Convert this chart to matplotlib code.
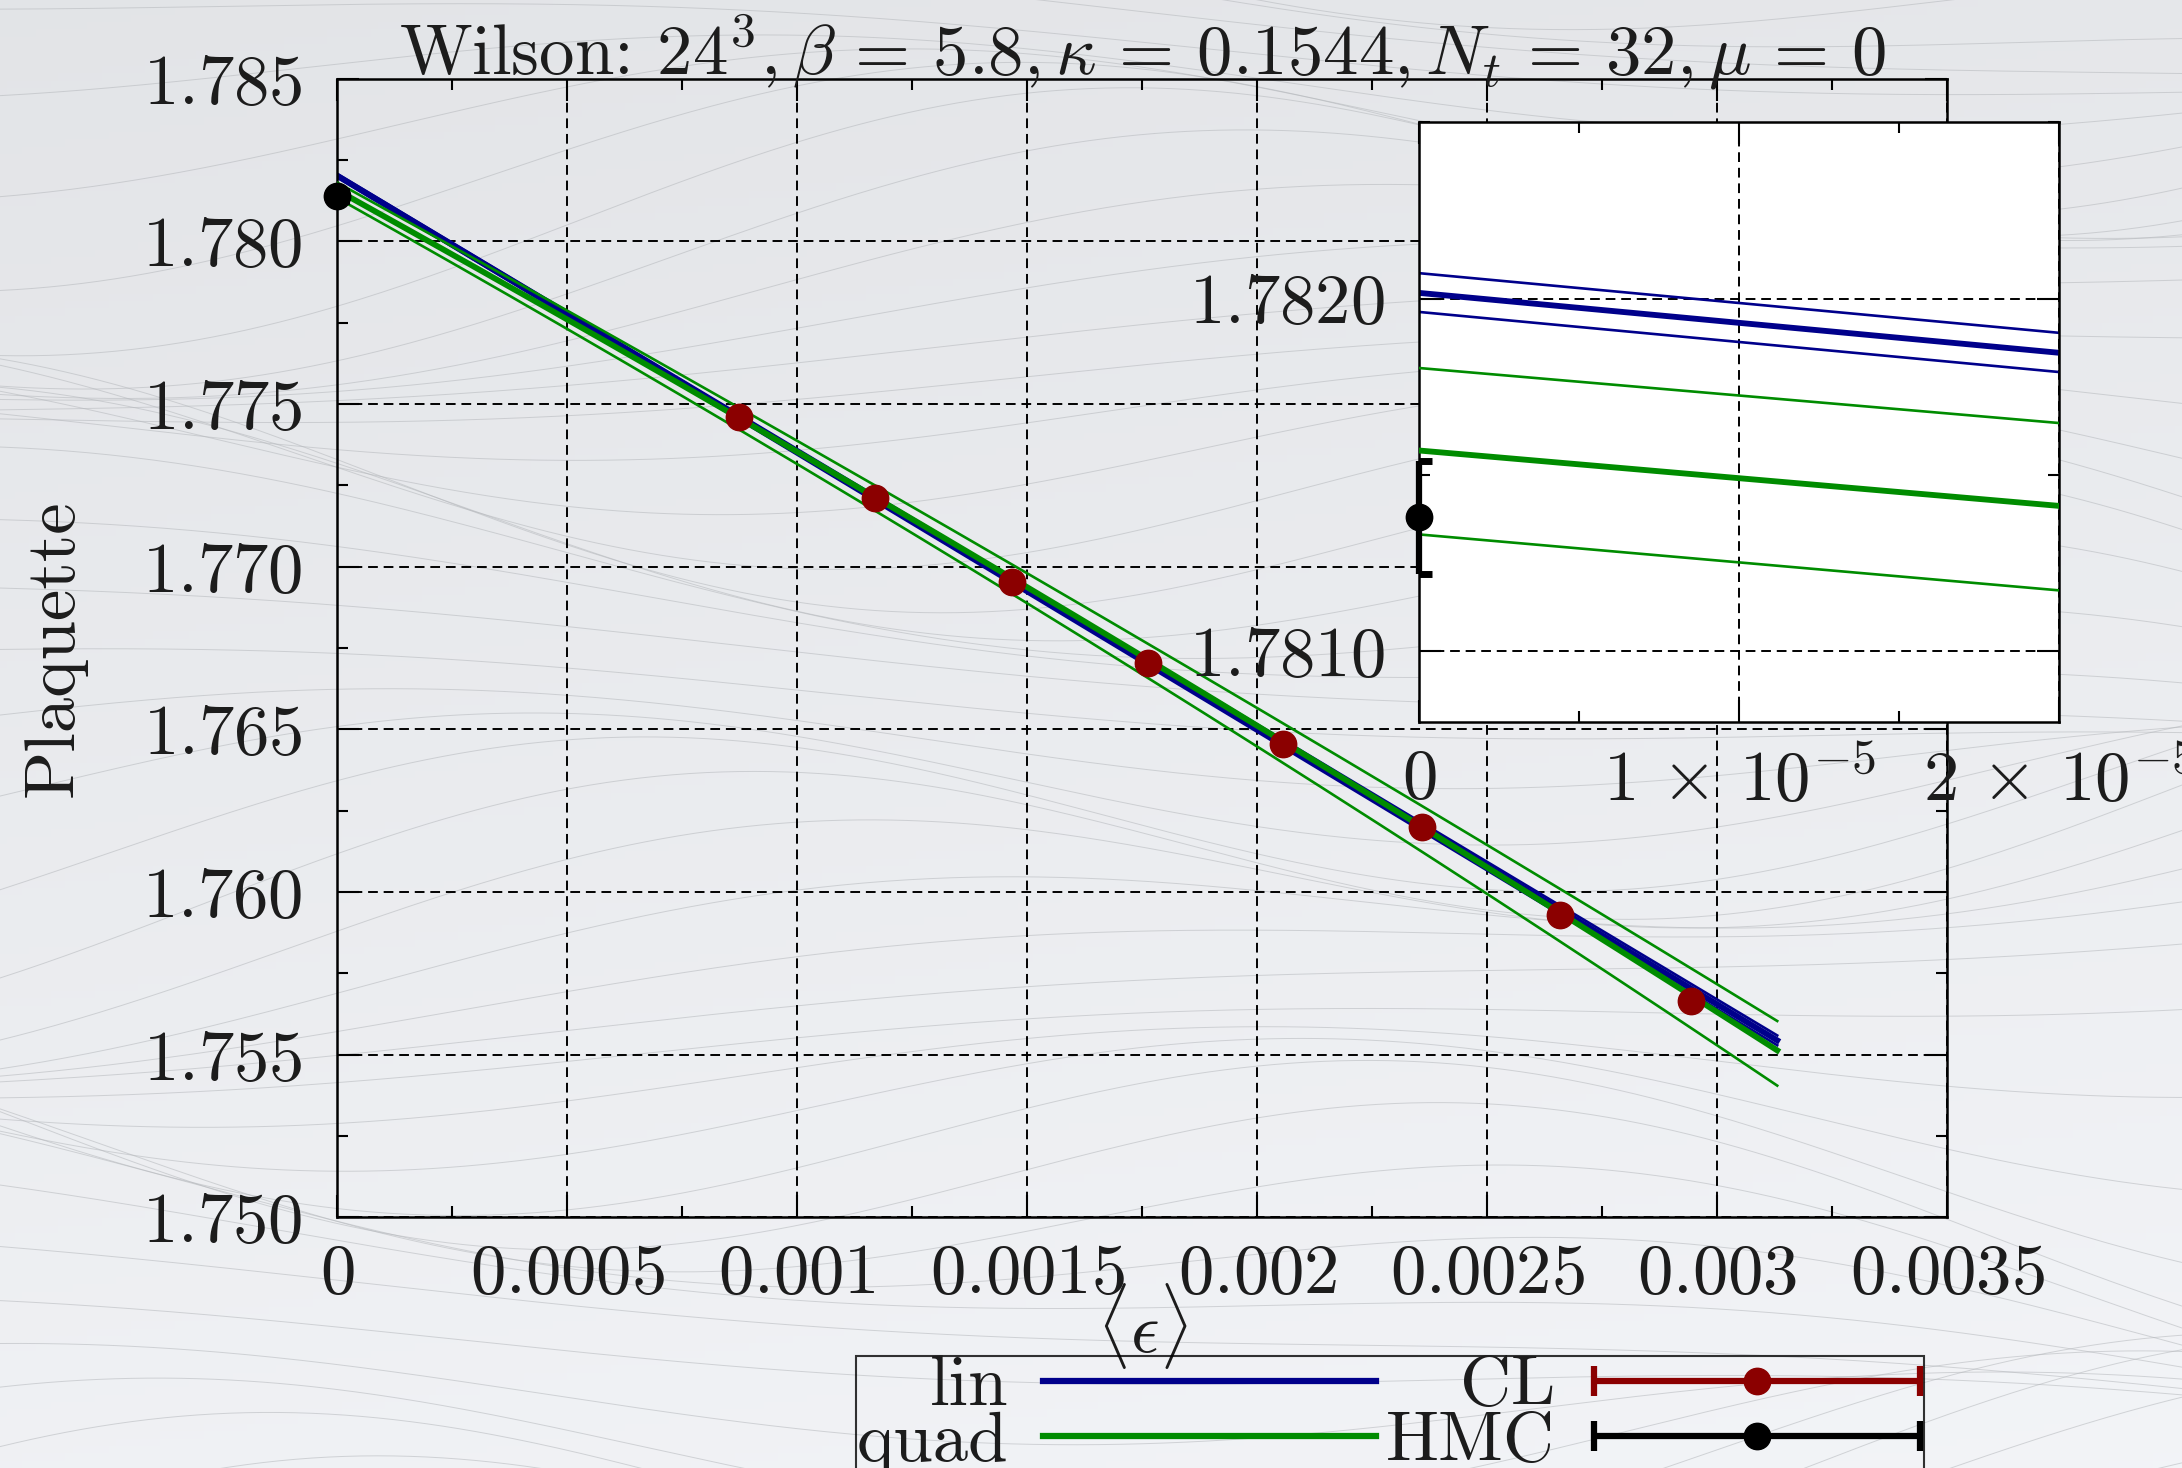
import numpy as np
import matplotlib
matplotlib.use('Agg')
import matplotlib.pyplot as plt
from matplotlib.ticker import MultipleLocator
from matplotlib.lines import Line2D
from matplotlib.collections import LineCollection
from matplotlib.container import ErrorbarContainer
from matplotlib.legend_handler import HandlerErrorbar
from numpy.polynomial.polynomial import polyval

plt.rcParams['font.family'] = 'cmr10'
plt.rcParams['mathtext.fontset'] = 'cm'
plt.rcParams['axes.unicode_minus'] = False
plt.rcParams['axes.formatter.use_mathtext'] = True

# --- data ---
cl_eps = [0.000873, 0.001169, 0.001466, 0.001763, 0.002055, 0.002357, 0.002658, 0.002943]
cl_plaq = [1.774591, 1.772120, 1.769519, 1.767029, 1.764539, 1.761987, 1.759291, 1.756657]
cl_err = [0.00004] * 8

hmc_eps = [0.0]
hmc_plaq = [1.78138]
hmc_err = [0.00016]

# fit curves: coefficients (a, b, c) of a + b*x + c*x^2, plus error band
fit_xmax = 0.00313
lin_mid = [1.782016, -8.491]
lin_hi = [1.782072, -8.461]
lin_lo = [1.781962, -8.522]
quad_mid = [1.781569, -7.85, -190.7]
quad_hi = [1.781803, -7.80, -138.4]
quad_lo = [1.781331, -7.93, -251.4]

main_xticks = [0, 0.0005, 0.001, 0.0015, 0.002, 0.0025, 0.003, 0.0035]
main_xlabels = ['0', '0.0005', '0.001', '0.0015', '0.002', '0.0025', '0.003', '0.0035']
main_yticks = [1.750, 1.755, 1.760, 1.765, 1.770, 1.775, 1.780, 1.785]
main_ylabels = ['1.750', '1.755', '1.760', '1.765', '1.770', '1.775', '1.780', '1.785']
ins_xticks = [0, 1e-5, 2e-5]
ins_xlabels = [r'0', r'1\,\times\,10^{-5}', r'2\,\times\,10^{-5}']
ins_yticks = [1.7810, 1.7820]
ins_ylabels = ['1.7810', '1.7820']

blue = '#00008b'
green = '#008c00'
red = '#8b0000'
txt = '#1c1c1c'
FS = 51
thin, thick = 1.9, 4.2
MS = 19

fig = plt.figure(figsize=(21.82, 14.68), dpi=100)

# background: soft gradient with faint flow lines
bg = fig.add_axes([0, 0, 1, 1], zorder=-10)
bg.set_axis_off()
gy, gx = np.mgrid[0:1:200j, 0:1:300j]
shade = 0.895 + 0.05 * gy + 0.012 * gx
rgb = np.dstack([shade - 0.006, shade, shade + 0.012]).clip(0, 1)
bg.imshow(rgb, extent=[0, 1, 0, 1], aspect='auto', origin='upper')
t = np.linspace(0, 1, 400)
for k in range(46):
    y0 = k / 40 - 0.08
    amp = 0.04 + 0.03 * np.sin(k * 0.7)
    yy = (y0 + amp * np.sin(2 * np.pi * (t * 1.1 + k * 0.045))
          + 0.12 * (t - 0.5) * np.cos(k * 0.35))
    bg.plot(t, yy, color='#b4b7bb', lw=0.7, alpha=0.55)
bg.set_xlim(0, 1)
bg.set_ylim(0, 1)


def style_axes(a, xt, xl, yt, yl, xminor, yminor):
    a.set_xticks(xt, ['$' + s + '$' for s in xl])
    a.set_yticks(yt, ['$' + s + '$' for s in yl])
    a.xaxis.set_minor_locator(MultipleLocator(xminor))
    a.yaxis.set_minor_locator(MultipleLocator(yminor))
    a.tick_params(which='both', direction='in', top=True, right=True,
                  width=1.5, color='black', labelsize=FS, labelcolor=txt)
    a.tick_params(which='major', length=16)
    a.tick_params(which='minor', length=8)
    a.tick_params(axis='x', which='major', pad=19)
    a.tick_params(axis='y', which='major', pad=25)
    a.grid(True, which='major', color='black', ls=(0, (5, 3)), lw=1.4)
    a.set_axisbelow(True)
    for s in a.spines.values():
        s.set_linewidth(1.8)


def draw_fits(a, xs):
    for coef, lw in [(lin_hi, thin), (lin_lo, thin), (lin_mid, thick)]:
        a.plot(xs, polyval(xs, coef), color=blue, lw=lw, zorder=2)
    for coef, lw in [(quad_hi, thin), (quad_lo, thin), (quad_mid, thick)]:
        a.plot(xs, polyval(xs, coef), color=green, lw=lw, zorder=3)


# main axes
ax = fig.add_axes([0.1546, 0.1708, 0.7379, 0.7756])
ax.set_facecolor('none')
ax.set_xlim(0, 0.0035)
ax.set_ylim(1.750, 1.785)
style_axes(ax, main_xticks, main_xlabels, main_yticks, main_ylabels, 0.00025, 0.0025)

draw_fits(ax, np.linspace(0, fit_xmax, 300))
ax.errorbar(cl_eps, cl_plaq, yerr=cl_err, fmt='o', color=red, ms=MS,
            elinewidth=4, capsize=9, capthick=4, zorder=5)
h = ax.errorbar(hmc_eps, hmc_plaq, yerr=hmc_err, fmt='o', color='black', ms=MS,
                elinewidth=4, capsize=9, capthick=4, zorder=6)
h[0].set_clip_on(False)

ax.set_title(r'Wilson: $24^3, \beta\,=\,5.8, \kappa\,=\,0.1544, N_t\,=\,32, \mu\,=\,0$',
             fontsize=FS, color=txt, y=1.0, pad=3)
ax.set_ylabel('Plaquette', fontsize=FS, color=txt)
ax.yaxis.set_label_coords(-0.156, 0.5)
ax.set_xlabel(r'$\langle\epsilon\rangle$', fontsize=FS, color=txt)
ax.xaxis.set_label_coords(0.5, -0.056)

# inset
axins = fig.add_axes([0.6505, 0.5084, 0.2933, 0.4083], zorder=3)
axins.set_facecolor('white')
axins.set_xlim(0, 2e-5)
axins.set_ylim(1.7808, 1.7825)
style_axes(axins, ins_xticks, ins_xlabels, ins_yticks, ins_ylabels, 0.5e-5, 0.0005)
draw_fits(axins, np.linspace(0, 2e-5, 50))
hi = axins.errorbar(hmc_eps, hmc_plaq, yerr=hmc_err, fmt='o', color='black', ms=MS,
                    elinewidth=4.5, capsize=9, capthick=5, zorder=6)
hi[0].set_clip_on(False)
hi[2][0].set_clip_on(False)


# legend
def err_handle(color, label):
    pt = Line2D([], [], color=color, marker='o', ms=MS, ls='none')
    cap = Line2D([], [], color=color, marker='|', ms=22, mew=4.5, ls='none')
    bar = LineCollection([], colors=[color], linewidths=4.5)
    return ErrorbarContainer((pt, (cap, cap), (bar,)), has_xerr=True,
                             has_yerr=False, label=label)


handles = [Line2D([], [], color=blue, lw=4.5), Line2D([], [], color=green, lw=4.5),
           err_handle(red, 'CL'), err_handle('black', 'HMC')]
labels = ['lin', 'quad', 'CL', 'HMC']
leg = fig.legend(handles, labels, loc='upper left', bbox_to_anchor=(0.3925, 0.0765),
                 ncol=2, markerfirst=False, fontsize=FS, handlelength=4.7,
                 handletextpad=0.5, columnspacing=0.14, labelspacing=-0.12,
                 borderpad=0.0, borderaxespad=0, fancybox=False, edgecolor='black',
                 facecolor='none', numpoints=1,
                 handler_map={ErrorbarContainer: HandlerErrorbar(xerr_size=2.3, numpoints=1)})
leg.get_frame().set_linewidth(1.5)
for tx in leg.get_texts():
    tx.set_color(txt)

fig.savefig('out.png', dpi=100)
